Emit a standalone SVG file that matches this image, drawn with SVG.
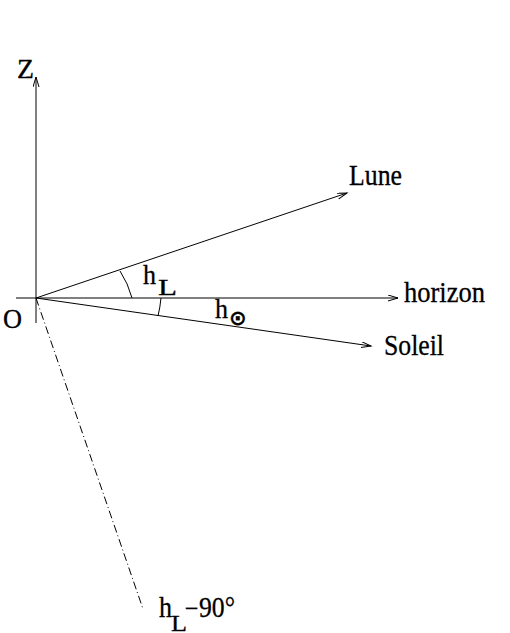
<svg xmlns="http://www.w3.org/2000/svg" width="510" height="633" viewBox="0 0 510 633">
<style>
.ln{stroke:#000;stroke-width:1;fill:none}
.t{font-family:"Liberation Serif","Times New Roman",serif;fill:#000;stroke:#000;stroke-width:0.3}
</style>
<defs>
<marker id="ar" markerUnits="userSpaceOnUse" markerWidth="12" markerHeight="8" refX="10" refY="3" orient="auto">
<path d="M0,0 L10,3 L0,6" fill="none" stroke="#000" stroke-width="1"/>
</marker>
</defs>
<rect width="510" height="633" fill="#fff"/>
<g id="connectors">
<line class="ln" x1="36" y1="323" x2="36" y2="77" marker-end="url(#ar)"/>
<line class="ln" x1="16" y1="298" x2="398" y2="298" marker-end="url(#ar)"/>
<line class="ln" x1="36" y1="298" x2="347" y2="193" marker-end="url(#ar)"/>
<line class="ln" x1="36" y1="298" x2="371" y2="346" marker-end="url(#ar)"/>
<line class="ln" x1="36" y1="298" x2="143" y2="609" stroke-dasharray="8,3,1,3"/>
<path class="ln" d="M120,271 A92,92 0 0 1 132,298"/>
<path class="ln" d="M158,316 A125,125 0 0 0 161,298"/>
</g>
<g id="Z"><text class="t" x="17" y="78" font-size="28" textLength="17" lengthAdjust="spacingAndGlyphs">Z</text></g>
<g id="O"><text class="t" x="3" y="328" font-size="28" textLength="19" lengthAdjust="spacingAndGlyphs">O</text></g>
<g id="Lune"><text class="t" x="349" y="185" font-size="29" textLength="53" lengthAdjust="spacingAndGlyphs">Lune</text></g>
<g id="horizon"><text class="t" x="404" y="302" font-size="29" textLength="81" lengthAdjust="spacingAndGlyphs">horizon</text></g>
<g id="Soleil"><text class="t" x="384" y="355" font-size="29" textLength="60" lengthAdjust="spacingAndGlyphs">Soleil</text></g>
<g id="hL"><text class="t" font-size="28"><tspan x="143" y="284" textLength="13" lengthAdjust="spacingAndGlyphs">h</tspan><tspan x="158" y="295" font-size="24" textLength="19" lengthAdjust="spacingAndGlyphs">L</tspan></text></g>
<g id="hSun"><text class="t" font-size="28"><tspan x="215" y="318" textLength="13" lengthAdjust="spacingAndGlyphs">h</tspan><tspan x="229" y="325" font-family="DejaVu Sans,sans-serif" font-size="21" font-weight="bold">⊙</tspan></text></g>
<g id="hL90"><text class="t" font-size="29"><tspan x="159" y="617" textLength="13" lengthAdjust="spacingAndGlyphs">h</tspan><tspan x="171" y="631" font-size="24" textLength="16" lengthAdjust="spacingAndGlyphs">L</tspan><tspan x="184" y="614" font-family="DejaVu Serif,serif" font-size="18">−</tspan><tspan x="199" y="617" textLength="36" lengthAdjust="spacingAndGlyphs">90°</tspan></text></g>
</svg>
